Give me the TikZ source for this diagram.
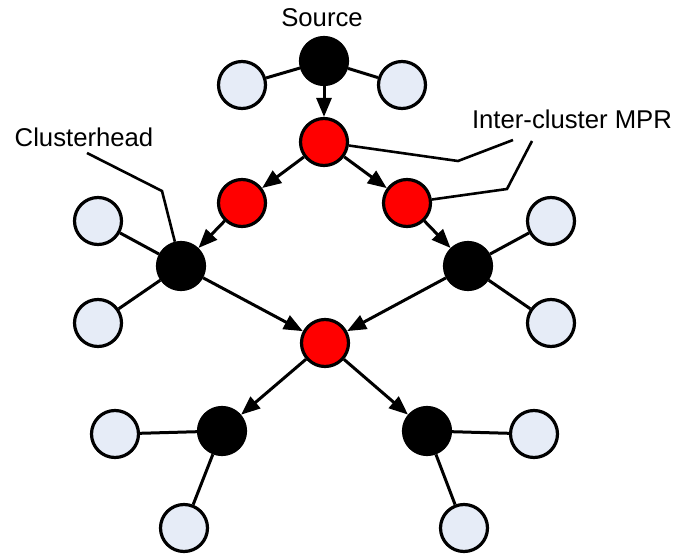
\documentclass[tikz,border=0pt]{standalone}
\usepackage{fontspec}
\setmainfont{Liberation Sans}
\usetikzlibrary{arrows.meta}
\definecolor{lightnode}{RGB}{230,236,247}
\definecolor{mprred}{RGB}{255,0,0}
\begin{document}
\begin{tikzpicture}[x=1pt,y=-1pt,
  base/.style={circle,draw=black,line width=3.2pt,minimum size=47pt,inner sep=0pt},
  leaf/.style={base,fill=lightnode},
  head/.style={base,fill=black},
  mpr/.style={base,fill=mprred},
  link/.style={line width=3pt},
  flow/.style={line width=3pt,-{Triangle[length=19pt,width=15pt]}},
  callout/.style={line width=2.6pt},
  lbl/.style={font=\fontsize{25.7}{30}\selectfont,inner sep=0pt}]
\useasboundingbox (0,0) rectangle (685,556);
% nodes
\node[head] (src) at (324,61) {};
\node[leaf] (sl) at (242,85) {};
\node[leaf] (sr) at (402,85) {};
\node[mpr] (mt) at (324,142) {};
\node[mpr] (ml) at (242,203) {};
\node[mpr] (mr) at (407,203) {};
\node[head] (hl) at (181,266) {};
\node[leaf] (hl1) at (98,221) {};
\node[leaf] (hl2) at (98,323) {};
\node[head] (hr) at (468,266) {};
\node[leaf] (hr1) at (551,221) {};
\node[leaf] (hr2) at (551,323) {};
\node[mpr] (mc) at (325,343) {};
\node[head] (bl) at (222,431) {};
\node[leaf] (bl1) at (115,434) {};
\node[leaf] (bl2) at (184,528) {};
\node[head] (br) at (427,431) {};
\node[leaf] (br1) at (534,434) {};
\node[leaf] (br2) at (464,528) {};
% labels
\node[lbl] (tsrc) at (322,18) {Source};
\node[lbl] (tch) at (84,137) {Clusterhead};
\node[lbl] (tmpr) at (572,119) {Inter-cluster MPR};
% plain links
\draw[link] (src) -- (sl);
\draw[link] (src) -- (sr);
\draw[link] (hl) -- (hl1);
\draw[link] (hl) -- (hl2);
\draw[link] (hr) -- (hr1);
\draw[link] (hr) -- (hr2);
\draw[link] (bl) -- (bl1);
\draw[link] (bl) -- (bl2);
\draw[link] (br) -- (br1);
\draw[link] (br) -- (br2);
% arrows
\draw[flow] (src) -- (mt);
\draw[flow] (mt) -- (ml);
\draw[flow] (mt) -- (mr);
\draw[flow] (ml) -- (hl);
\draw[flow] (mr) -- (hr);
\draw[flow] (hl) -- (mc);
\draw[flow] (hr) -- (mc);
\draw[flow] (mc) -- (bl);
\draw[flow] (mc) -- (br);
% callouts
\coordinate (c1a) at (87,153);
\coordinate (c1b) at (162,191);
\draw[callout] (c1a) -- (c1b) -- (hl);
\coordinate (c2a) at (513,140);
\coordinate (c2b) at (458,161);
\draw[callout] (c2a) -- (c2b) -- (mt);
\coordinate (c3a) at (532,141);
\coordinate (c3b) at (507,189);
\draw[callout] (c3a) -- (c3b) -- (mr);
\end{tikzpicture}
\end{document}
